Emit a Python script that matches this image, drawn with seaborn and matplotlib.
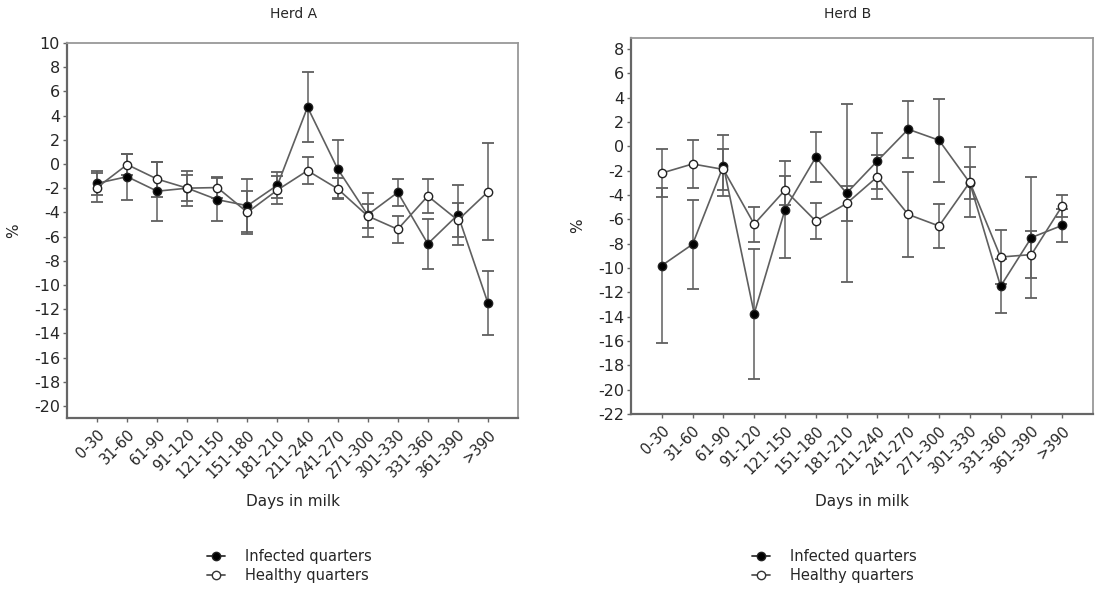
import numpy as np
import pandas as pd
import matplotlib
matplotlib.use("Agg")
import matplotlib.pyplot as plt
import seaborn as sns
from matplotlib.lines import Line2D

# ---------------- data ----------------
categories = ["0-30", "31-60", "61-90", "91-120", "121-150", "151-180", "181-210",
              "211-240", "241-270", "271-300", "301-330", "331-360", "361-390", ">390"]

herd_a_infected = [-1.6, -1.05, -2.25, -2.0, -2.95, -3.45, -1.75, 4.7, -0.4, -4.2, -2.35, -6.6, -4.2, -11.5]
herd_a_infected_err = [1.0, 1.9, 2.45, 1.45, 1.75, 2.2, 1.1, 2.9, 2.4, 1.8, 1.1, 2.05, 2.5, 2.65]
herd_a_healthy = [-1.95, -0.05, -1.25, -2.0, -1.95, -4.0, -2.15, -0.55, -2.05, -4.3, -5.4, -2.65, -4.65, -2.3]
herd_a_healthy_err = [1.2, 0.85, 1.45, 1.1, 0.85, 1.8, 1.15, 1.1, 0.85, 1.0, 1.1, 1.4, 1.4, 4.0]

herd_b_infected = [-9.8, -8.05, -1.6, -13.75, -5.2, -0.9, -3.85, -1.2, 1.4, 0.5, -3.0, -11.5, -7.5, -6.5]
herd_b_infected_err = [6.4, 3.65, 2.5, 5.35, 4.0, 2.05, 7.3, 2.3, 2.35, 3.4, 1.3, 2.2, 5.0, 1.35]
herd_b_healthy = [-2.2, -1.45, -1.9, -6.4, -3.6, -6.15, -4.7, -2.5, -5.6, -6.55, -2.95, -9.1, -8.9, -4.9]
herd_b_healthy_err = [2.0, 2.0, 1.7, 1.45, 1.2, 1.5, 1.4, 1.8, 3.5, 1.8, 2.9, 2.25, 1.9, 0.9]

series_labels = ["Infected quarters", "Healthy quarters"]

# ---------------- style ----------------
sns.set_style("white")
plt.rcParams["font.family"] = ["DejaVu Sans"]
plt.rcParams["axes.unicode_minus"] = False

LINE = "#5f5f5f"
W, H = 1098, 592
fig = plt.figure(figsize=(W / 100, H / 100), dpi=100)


def px_axes(l, t, r, b):
    return [l / W, 1 - b / H, (r - l) / W, (b - t) / H]


axA = fig.add_axes(px_axes(67, 43, 518, 418))
axB = fig.add_axes(px_axes(631, 38, 1093, 414))


def draw(ax, inf, inf_err, hea, hea_err, ylim, yticks):
    pos = np.arange(len(categories))
    df = pd.DataFrame({
        "pos": np.concatenate([pos, pos]),
        "value": inf + hea,
        "err": inf_err + hea_err,
        "group": [series_labels[0]] * len(pos) + [series_labels[1]] * len(pos),
    })
    for g, face in [(series_labels[0], "black"), (series_labels[1], "white")]:
        d = df[df["group"] == g]
        ax.errorbar(d["pos"], d["value"], yerr=d["err"], fmt="none",
                    ecolor=LINE, elinewidth=1.1, capsize=4, capthick=1.3, zorder=2)
        sns.lineplot(data=d, x="pos", y="value", ax=ax, color=LINE, linewidth=1.2,
                     marker="o", markersize=6, markerfacecolor=face,
                     markeredgecolor="#222222", markeredgewidth=1.0,
                     legend=False, zorder=3)
    ax.set_xlim(-1, len(categories))
    ax.set_ylim(*ylim)
    ax.set_yticks(yticks)
    ax.set_xticks(pos)
    ax.set_xticklabels(categories, rotation=45, ha="right", rotation_mode="anchor",
                       fontsize=10.5)
    ax.tick_params(axis="y", labelsize=11.5, pad=2)
    ax.tick_params(axis="both", direction="out", length=3, width=1, color="#666666",
                   bottom=True, left=True)
    for s in ["left", "bottom"]:
        ax.spines[s].set_color("#666666")
        ax.spines[s].set_linewidth(1.6)
    for s in ["top", "right"]:
        ax.spines[s].set_color("#999999")
        ax.spines[s].set_linewidth(1.3)
    ax.set_xlabel("Days in milk", fontsize=11)
    ax.set_ylabel("%", fontsize=11)


draw(axA, herd_a_infected, herd_a_infected_err, herd_a_healthy, herd_a_healthy_err,
     (-21, 10), np.arange(-20, 11, 2))
draw(axB, herd_b_infected, herd_b_infected_err, herd_b_healthy, herd_b_healthy_err,
     (-22, 8.9), np.arange(-22, 9, 2))

axA.xaxis.set_label_coords(0.5, (418 - 494) / 375)
axB.xaxis.set_label_coords(0.5, (414 - 494) / 376)
axA.yaxis.set_label_coords((21 - 67) / 451, 0.5)
axB.yaxis.set_label_coords((585 - 631) / 462, 0.5)

fig.text(294 / W, 1 - 14 / H, "Herd A", ha="center", va="center", fontsize=10)
fig.text(848 / W, 1 - 14 / H, "Herd B", ha="center", va="center", fontsize=10)

handles = [
    Line2D([0], [0], color="#333333", linewidth=1.3, marker="o", markersize=6,
           markerfacecolor="black", markeredgecolor="#222222"),
    Line2D([0], [0], color="#555555", linewidth=1.3, marker="o", markersize=6,
           markerfacecolor="white", markeredgecolor="#333333"),
]
for x0 in (207, 752):
    fig.legend(handles, series_labels, loc="upper left",
               bbox_to_anchor=(x0 / W, 1 - 549 / H), frameon=False, fontsize=10.5,
               handlelength=1.2, handletextpad=1.4, labelspacing=0.25,
               borderpad=0, borderaxespad=0)

fig.savefig("out.png", dpi=100)
